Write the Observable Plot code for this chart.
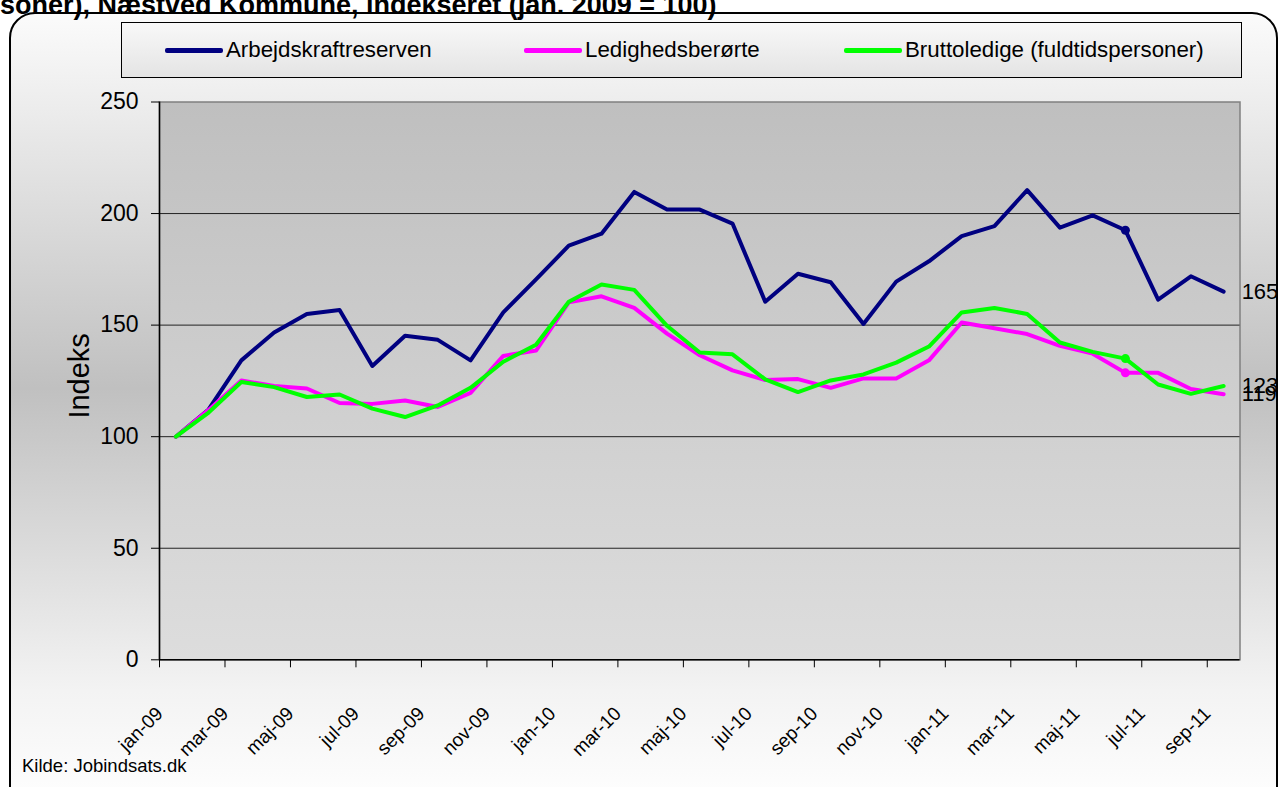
<!DOCTYPE html>
<html>
<head>
<meta charset="utf-8">
<script src="https://cdn.jsdelivr.net/npm/d3@7"></script>
<script src="https://cdn.jsdelivr.net/npm/@observablehq/plot@0.6"></script>
<style>
html,body{margin:0;padding:0;background:#fff;overflow:hidden;}
#wrap{position:relative;width:1278px;height:787px;overflow:hidden;font-family:"Liberation Sans",Arial,sans-serif;color:#000;}
#panel{position:absolute;left:9px;top:12px;width:1269px;height:800px;box-sizing:border-box;border:2px solid #000;border-radius:26px;
  background:linear-gradient(to bottom,#fbfbfb 0%,#c0c0c0 47%,#f3f3f3 85%,#ffffff 100%);}
#title{position:absolute;left:0;top:-8px;font-size:27px;line-height:27px;font-weight:bold;white-space:nowrap;}
#legend{position:absolute;left:121px;top:22px;width:1121px;height:56px;box-sizing:border-box;border:1px solid #000;
  background:linear-gradient(to bottom,#f8f8f8,#e4e4e4);}
.sw{position:absolute;height:4.5px;border-radius:2px;}
.lt{position:absolute;font-size:22.3px;line-height:22px;white-space:nowrap;}
#caption{position:absolute;left:22px;top:757px;font-size:18.5px;line-height:18.5px;white-space:nowrap;}
#chart{position:absolute;left:0;top:0;}
</style>
</head>
<body>
<div id="wrap">
  <div id="panel"></div>
  <div id="title">soner), Næstved Kommune, indekseret (jan. 2009 = 100)</div>
  <div id="legend"></div>
  <div id="chart"></div>
  <div id="caption">Kilde: Jobindsats.dk</div>
</div>
<script>
// ---- data ----
const months = ["jan-09","feb-09","mar-09","apr-09","maj-09","jun-09","jul-09","aug-09","sep-09","okt-09","nov-09","dec-09",
  "jan-10","feb-10","mar-10","apr-10","maj-10","jun-10","jul-10","aug-10","sep-10","okt-10","nov-10","dec-10",
  "jan-11","feb-11","mar-11","apr-11","maj-11","jun-11","jul-11","aug-11","sep-11"];
const seriesNames = ["Arbejdskraftreserven","Ledighedsberørte","Bruttoledige (fuldtidspersoner)"];
const seriesColors = ["#000080","#ff00ff","#00ff00"];
const arbejdskraftreserven = [100,112.2,134.2,146.7,155,156.8,131.7,145.2,143.4,134.2,155.7,170.5,
  185.6,191,209.7,201.8,201.8,195.5,160.5,173,169.2,150.5,169.5,178.6,
  189.9,194.4,210.5,193.7,199.2,192.5,161.4,171.9,165];
const ledighedsberorte = [100,112,125.2,122.7,121.6,115.1,114.7,116.2,113.3,119.6,136.2,138.6,
  160.2,162.9,157.7,146.2,136.5,129.7,125.4,125.8,121.9,126.1,126.1,134.2,
  151.2,148.6,146,140.7,137.2,128.6,128.6,121.4,119];
const bruttoledige = [100,110.8,124.5,122.2,117.8,118.9,112.6,108.8,114,121.9,133.6,141.2,
  160.5,168.2,165.8,149.7,137.7,136.9,125.7,120,125.2,127.9,133.2,140.4,
  155.7,157.7,155,142.2,138,135,123.4,119.2,122.7];
const yTicks = [0,50,100,150,200,250];
const gridValues = [50,100,150,200];
const labelMonths = ["jan-09","mar-09","maj-09","jul-09","sep-09","nov-09","jan-10","mar-10","maj-10","jul-10","sep-10","nov-10","jan-11","mar-11","maj-11","jul-11","sep-11"];
const markerMonth = "jun-11";
const yLabel = "Indeks";

// ---- build ----
const seriesValues = [arbejdskraftreserven, ledighedsberorte, bruttoledige];
const rows = seriesNames.flatMap((s, k) => seriesValues[k].map((v, i) => ({s, i, v})));
const labelIdx = labelMonths.map(m => months.indexOf(m));
const tickPos = labelIdx.map(i => i - 0.5);
const markerIdx = months.indexOf(markerMonth);
const markers = rows.filter(d => d.i === markerIdx);
const lastIdx = months.length - 1;
const lastPts = rows.filter(d => d.i === lastIdx);

// legend
const legend = document.getElementById("legend");
const swX = [43, 402, 722];
seriesNames.forEach((s, k) => {
  const sw = document.createElement("div");
  sw.className = "sw";
  sw.style.left = swX[k] + "px";
  sw.style.width = "58px";
  sw.style.top = "25px";
  sw.style.background = seriesColors[k];
  legend.appendChild(sw);
  const t = document.createElement("div");
  t.className = "lt";
  t.style.left = (swX[k] + 61) + "px";
  t.style.top = "16px";
  t.textContent = s;
  legend.appendChild(t);
});

const defs = () => {
  const d = d3.create("svg:defs");
  const g = d.append("linearGradient").attr("id", "plotbg").attr("x1", 0).attr("x2", 0).attr("y1", 0).attr("y2", 1);
  g.append("stop").attr("offset", "0%").attr("stop-color", "#bfbfbf");
  g.append("stop").attr("offset", "100%").attr("stop-color", "#dddddd");
  return d.node();
};

const chart = Plot.plot({
  width: 1278,
  height: 787,
  marginLeft: 159,
  marginRight: 38.5,
  marginTop: 101.5,
  marginBottom: 127.7,
  x: {type: "linear", domain: [-0.5, months.length - 0.5], axis: null},
  y: {domain: [0, 250], axis: null},
  color: {domain: seriesNames, range: seriesColors},
  marks: [
    defs,
    Plot.frame({fill: "url(#plotbg)", stroke: "#808080", strokeWidth: 1.5}),
    Plot.ruleY(gridValues, {stroke: "#222", strokeWidth: 1}),
    Plot.ruleY([0], {stroke: "#000", strokeWidth: 1.5}),
    Plot.ruleX([-0.5], {stroke: "#000", strokeWidth: 1.5}),
    Plot.axisY({ticks: yTicks, tickSize: 8, tickPadding: 13, fontSize: 23, label: null, tickFormat: d => String(d)}),
    Plot.axisX({ticks: tickPos, tickSize: 8, tickFormat: () => "", label: null}),
    Plot.text(labelIdx, {x: d => d, text: d => months[d], frameAnchor: "bottom", dx: -12, dy: 55,
      rotate: -45, textAnchor: "end", fontSize: 19, fill: "#000"}),
    Plot.line(rows, {x: "i", y: "v", z: "s", stroke: "s", strokeWidth: 4, strokeLinejoin: "round", strokeLinecap: "round"}),
    Plot.dot(markers, {x: "i", y: "v", fill: "s", r: 4.5}),
    Plot.text(lastPts, {x: "i", y: "v", text: d => String(Math.round(d.v)), dx: 18, textAnchor: "start", fontSize: 22, fill: "#000"}),
    Plot.text([yLabel], {frameAnchor: "left", text: d => d, dx: -80, dy: -5, rotate: -90, textAnchor: "middle", fontSize: 29, fill: "#000"})
  ]
});
chart.style.background = "transparent";
chart.style.overflow = "visible";
chart.style.fontFamily = '"Liberation Sans", Arial, sans-serif';
chart.style.color = "#000";
document.getElementById("chart").appendChild(chart);
</script>
</body>
</html>
